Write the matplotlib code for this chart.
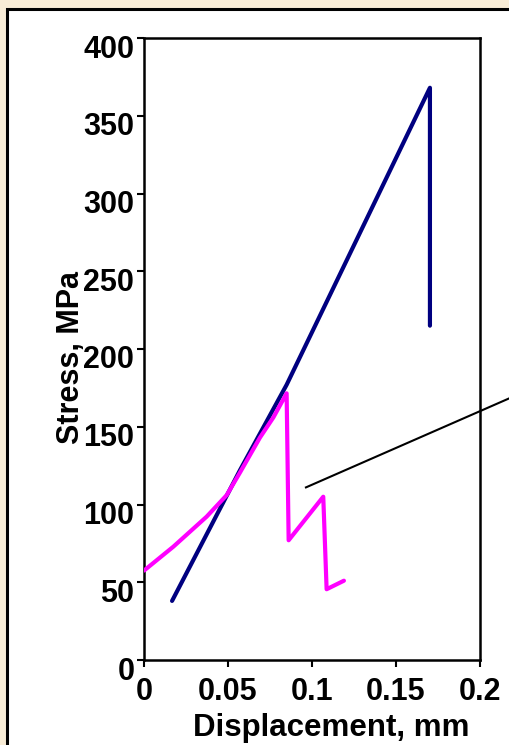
import numpy as np
import matplotlib
matplotlib.use("Agg")
import matplotlib.pyplot as plt
from matplotlib.patches import Rectangle
from matplotlib.transforms import ScaledTranslation

# data
blue_x = [0.0167, 0.0571, 0.0849, 0.1702, 0.1702]
blue_y = [38, 122, 177, 368, 215]

pink_x = [0.0, 0.0175, 0.0373, 0.0492, 0.0571, 0.069, 0.077, 0.0849,
          0.0861, 0.1067, 0.1087, 0.1190]
pink_y = [57.5, 72.9, 92.2, 106, 120.5, 143, 156, 171.5,
          77, 105, 45.5, 51]

# leader line to a note that is off the crop
lead_x = [0.0964, 0.2179]
lead_y = [111, 168.5]

xticks = [0, 0.05, 0.1, 0.15, 0.2]
xtick_labels = ["0", "0.05", "0.1", "0.15", "0.2"]
yticks = [0, 50, 100, 150, 200, 250, 300, 350, 400]

plt.rcParams['font.family'] = ['Liberation Sans', 'DejaVu Sans']
plt.rcParams['font.weight'] = 'bold'

W, H = 510, 745
fig = plt.figure(figsize=(W / 100, H / 100), dpi=100)
fig.patch.set_facecolor('#F8ECD6')

# white panel with black frame, runs off right and bottom
panel = Rectangle((7 / W, -0.05), 1.2, (H - 9) / H + 0.05, transform=fig.transFigure,
                  facecolor='white', edgecolor='black', linewidth=2.2, zorder=-10)
fig.add_artist(panel)

ax = fig.add_axes([144 / W, 85 / H, 336 / W, 622 / H])
ax.set_facecolor('white')

ax.plot(blue_x, blue_y, color='#000080', lw=3, solid_capstyle='round',
        solid_joinstyle='round', zorder=3)
ax.plot(pink_x, pink_y, color='#FF00FF', lw=3, solid_capstyle='round',
        solid_joinstyle='round', zorder=4)
ax.plot(lead_x, lead_y, color='black', lw=1.5, clip_on=False, zorder=5)

ax.set_xlim(0, 0.2)
ax.set_ylim(0, 400)
ax.set_xticks(xticks)
ax.set_xticklabels(xtick_labels)
ax.set_yticks(yticks)

for s in ax.spines.values():
    s.set_linewidth(1.8)

ax.tick_params(axis='both', direction='out', length=5, width=1.5, labelsize=22)
ax.tick_params(axis='x', pad=7)
ax.tick_params(axis='y', pad=2)

off = ScaledTranslation(0, -8 / 100, fig.dpi_scale_trans)
for lbl in ax.get_yticklabels():
    lbl.set_transform(lbl.get_transform() + off)

ax.set_xlabel("Displacement, mm", fontsize=22.5, fontweight='bold')
ax.set_ylabel("Stress, MPa", fontsize=22, fontweight='bold')
ax.xaxis.set_label_coords(0.557, -0.085)
ax.yaxis.set_label_coords(-0.172, 0.487)

fig.savefig("out.png", dpi=100, facecolor=fig.get_facecolor())
